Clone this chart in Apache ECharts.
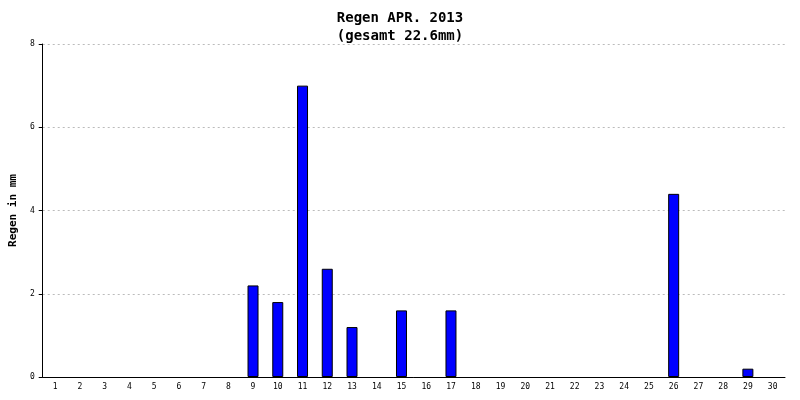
<!DOCTYPE html>
<html><head><meta charset="utf-8">
<script src="https://cdn.jsdelivr.net/npm/echarts@6/dist/echarts.min.js"></script>
<style>html,body{margin:0;padding:0;background:#fff}#c{width:800px;height:400px}</style>
</head><body><div id="c"></div>
<script>
const days = Array.from({length:30},(_,i)=>String(i+1));
const rain = [0,0,0,0,0,0,0,0,2.2,1.8,7.0,2.6,1.2,0,1.6,0,1.6,0,0,0,0,0,0,0,0,4.4,0,0,0.2,0];
const yTicks = [0,2,4,6,8];
const font = 'DejaVu Sans Mono';
const chart = echarts.init(document.getElementById('c'));
chart.setOption({
  animation:false,
  title:{text:'Regen APR. 2013\n(gesamt 22.6mm)',left:'center',top:4,
    textStyle:{fontFamily:font,fontSize:14,fontWeight:'bold',color:'#000',lineHeight:18}},
  grid:{left:38,right:15,top:44,bottom:23},
  xAxis:{type:'category',data:days,
    axisLine:{lineStyle:{color:'#000'}},
    axisTick:{lineStyle:{color:'#000'},length:5},
    axisLabel:{fontFamily:font,fontSize:8,color:'#000',interval:0,margin:6}},
  yAxis:{type:'value',min:0,max:8,interval:2,name:'Regen in mm',nameLocation:'middle',nameGap:22,
    nameTextStyle:{fontFamily:font,fontSize:11,fontWeight:'bold',color:'#000'},
    axisLine:{show:true,lineStyle:{color:'#000'}},
    axisTick:{show:true,lineStyle:{color:'#000'},length:4},
    axisLabel:{fontFamily:font,fontSize:8,color:'#000',margin:8},
    splitLine:{lineStyle:{color:'#bbb',type:[2,3]}}},
  series:[{type:'bar',data:rain.map(v=>v===0?null:v),barWidth:11,
    itemStyle:{color:'#0000ff',borderColor:'#000',borderWidth:1}}]
});
</script></body></html>
